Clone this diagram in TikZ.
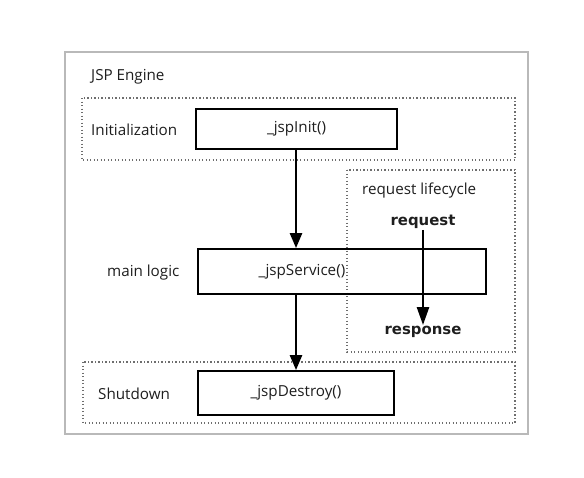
\documentclass[tikz,border=0pt]{standalone}
\usepackage{fontspec}
\setmainfont{Open Sans}
\newfontfamily\dejavu{DejaVu Sans}
\usetikzlibrary{arrows.meta}
\definecolor{framegray}{RGB}{185,185,185}
\definecolor{dotgray}{RGB}{110,110,110}
\definecolor{textgray}{RGB}{30,30,30}
\begin{document}
\begin{tikzpicture}[x=1pt,y=-1pt,
    method/.style={draw,line width=1.8pt,inner sep=0pt,font=\fontsize{15.2}{18}\selectfont,text=textgray},
    lbl/.style={anchor=west,inner sep=0pt,font=\fontsize{15.2}{18}\selectfont,text=textgray},
    bold/.style={inner sep=1pt,font=\dejavu\bfseries\fontsize{14.9}{18}\selectfont,text=textgray},
    dotbox/.style={dotgray,line width=1.3pt,dash pattern=on 1.3pt off 2.2pt},
    flow/.style={line width=2.4pt,-{Triangle[length=15pt,width=12pt]}}]
  \useasboundingbox (0,0) rectangle (584,477);
  \draw[framegray,line width=2pt] (65,52) rectangle (528,434);
  \node[lbl] (engine) at (91,77) {JSP Engine};
  % phases
  \draw[dotbox] (82,98) rectangle (515,160);
  \draw[dotbox] (347,170) rectangle (515,352);
  \draw[dotbox] (83,362) rectangle (515,423);
  \node[lbl] (initlbl) at (91,130) {Initialization};
  \node[lbl] (mainlbl) at (107,273) {main logic};
  \node[lbl] (shutlbl) at (98,394) {Shutdown};
  \node[lbl] (lifelbl) at (362,191) {request lifecycle};
  % methods
  \node[method,minimum width=201pt,minimum height=40pt] (init) at (296.5,129) {\_jspInit()};
  \node[method,minimum width=288pt,minimum height=45pt,
    label={[font=\fontsize{15.2}{18}\selectfont,text=textgray,xshift=-40pt]center:\_jspService()}] (service) at (342,271.5) {};
  \node[method,minimum width=196pt,minimum height=44pt] (destroy) at (296,393) {\_jspDestroy()};
  \node[bold] (req) at (423,222) {request};
  \node[bold] (resp) at (423,332) {response};
  % arrows
  \draw[flow] (init.south -| destroy.north) -- (destroy.north |- service.north);
  \draw[flow] (destroy.north |- service.south) -- (destroy.north);
  \draw[flow,-{Triangle[length=18pt,width=12pt]}] (req.south) -- (resp.north);
\end{tikzpicture}
\end{document}
